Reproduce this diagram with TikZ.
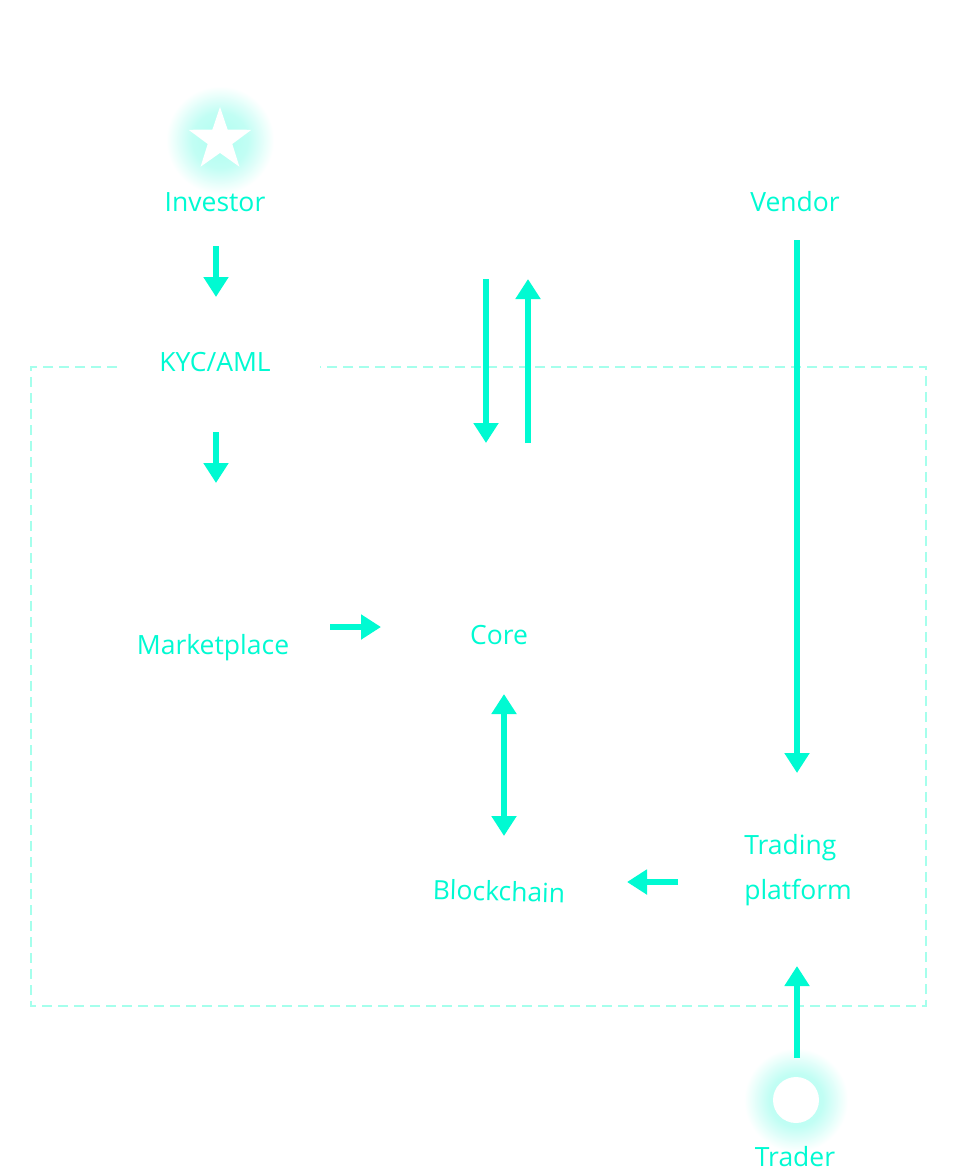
\documentclass[tikz,border=0pt]{standalone}
\usepackage{fontspec}
\setmainfont{Open Sans}
\usetikzlibrary{arrows.meta,shapes.geometric}
\definecolor{aqua}{RGB}{0,250,210}
\definecolor{dashc}{RGB}{165,255,236}
\pgfdeclareradialshading{glow}{\pgfpoint{0bp}{0bp}}{color(0bp)=(aqua!32);color(13bp)=(aqua!24);color(25bp)=(white);color(50bp)=(white)}
\begin{document}
\begin{tikzpicture}[x=1pt,y=-1pt,
  lbl/.style={text=aqua,font=\fontsize{26.5}{32}\selectfont,inner sep=0pt},
  arr/.style={draw=aqua,line width=6pt,-{Triangle[width=24pt,length=20pt]}},
  darr/.style={draw=aqua,line width=6pt,{Triangle[width=24pt,length=20pt]}-{Triangle[width=24pt,length=20pt]}},
  boxline/.style={draw=dashc,line width=2pt,dash pattern=on 10pt off 6pt}]
\useasboundingbox[fill=white] (0,0) rectangle (960,1173);
% dashed frame
\coordinate (f1) at (117,367);
\coordinate (f2) at (31,367);
\coordinate (f3) at (31,1006);
\coordinate (f4) at (926,1006);
\coordinate (f5) at (926,367);
\coordinate (f6) at (320,367);
\draw[boxline] (f1) -- (f2) -- (f3) -- (f4) -- (f5) -- (f6);
% glows and icons
\shade[shading=glow] (220,140) circle (54);
\node[star,star points=5,star point ratio=2.55,minimum size=66pt,fill=white,inner sep=0pt] (star) at (220,140) {};
\shade[shading=glow] (796,1100) circle (52);
\node[circle,fill=white,minimum size=46pt,inner sep=0pt] (dot) at (796,1100) {};
% labels
\node[lbl] (inv) at (215,202) {Investor};
\node[lbl] (kyc) at (215,362) {KYC/AML};
\node[lbl] (mkt) at (213,648) {Marketplace};
\node[lbl] (core) at (499,635) {Core};
\node[lbl,rotate=-1.5] (bc) at (499,891) {Blockchain};
\node[lbl,align=left,font=\fontsize{26.5}{45}\selectfont] (tp) at (798,870) {Trading\\platform};
\node[lbl] (ven) at (795,202) {Vendor};
\node[lbl] (trd) at (795,1157) {Trader};
% arrow end points
\coordinate (a1s) at (216,246); \coordinate (a1e) at (216,297);
\coordinate (a2s) at (216,432); \coordinate (a2e) at (216,483);
\coordinate (a3s) at (330,627); \coordinate (a3e) at (381,627);
\coordinate (a4s) at (486,279); \coordinate (a4e) at (486,443);
\coordinate (a5s) at (528,443); \coordinate (a5e) at (528,279);
\coordinate (a6s) at (504,694); \coordinate (a6e) at (504,836);
\coordinate (a7s) at (678,882); \coordinate (a7e) at (627,882);
\coordinate (a8s) at (797,240); \coordinate (a8e) at (797,773);
\coordinate (a9s) at (797,1058); \coordinate (a9e) at (797,966);
\draw[arr] (a1s) -- (a1e);
\draw[arr] (a2s) -- (a2e);
\draw[arr] (a3s) -- (a3e);
\draw[arr] (a4s) -- (a4e);
\draw[arr] (a5s) -- (a5e);
\draw[darr] (a6s) -- (a6e);
\draw[arr] (a7s) -- (a7e);
\draw[arr] (a8s) -- (a8e);
\draw[arr] (a9s) -- (a9e);
\end{tikzpicture}
\end{document}
